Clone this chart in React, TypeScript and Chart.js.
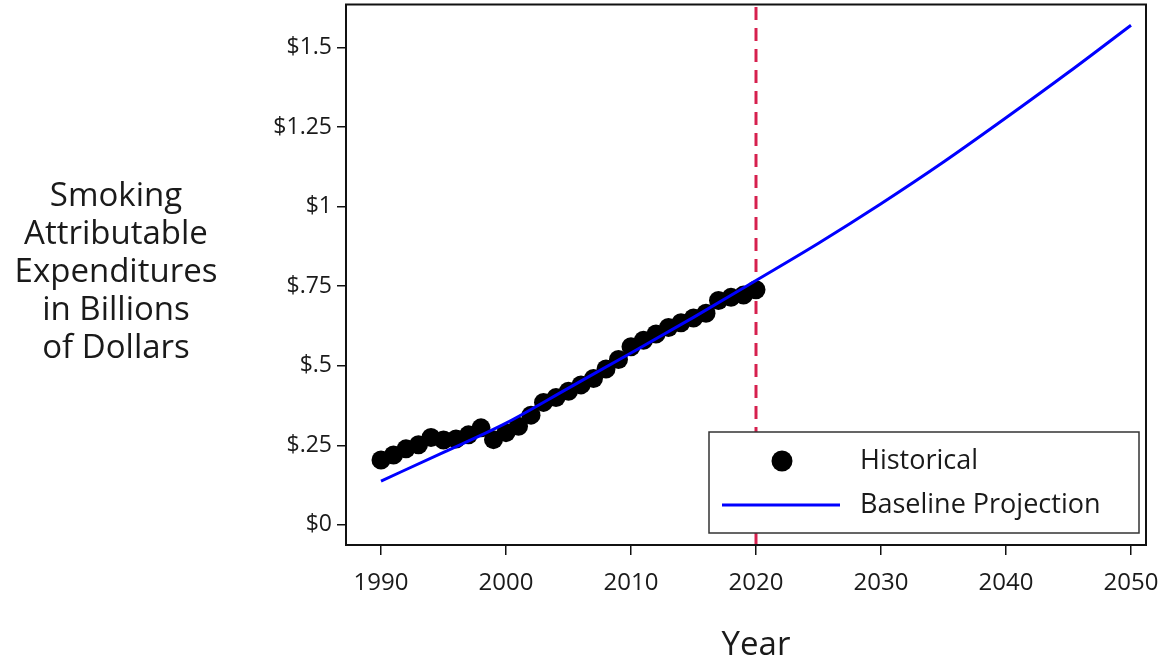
import { useEffect, useRef } from "react";
import Chart from "chart.js/auto";

const histYears = [
  1990, 1991, 1992, 1993, 1994, 1995, 1996, 1997, 1998, 1999,
  2000, 2001, 2002, 2003, 2004, 2005, 2006, 2007, 2008, 2009,
  2010, 2011, 2012, 2013, 2014, 2015, 2016, 2017, 2018, 2019, 2020,
];
const histValues = [
  0.204, 0.22, 0.239, 0.252, 0.275, 0.267, 0.27, 0.283, 0.305, 0.268,
  0.29, 0.31, 0.345, 0.385, 0.4, 0.42, 0.44, 0.46, 0.49, 0.52,
  0.56, 0.58, 0.6, 0.62, 0.635, 0.65, 0.665, 0.705, 0.715, 0.722, 0.739,
];
const projYears = [1990, 1995, 2000, 2005, 2010, 2015, 2020, 2025, 2030, 2035, 2040, 2045, 2050];
const projValues = [0.138, 0.228, 0.32, 0.43, 0.54, 0.652, 0.768, 0.885, 1.009, 1.14, 1.279, 1.422, 1.57];
const cutoffYear = 2020;
const xTickValues = [1990, 2000, 2010, 2020, 2030, 2040, 2050];
const yTickValues = [0, 0.25, 0.5, 0.75, 1, 1.25, 1.5];
const yTickLabels = ["$0", "$.25", "$.5", "$.75", "$1", "$1.25", "$1.5"];
const yTitleLines = ["Smoking", "Attributable", "Expenditures", "in Billions", "of Dollars"];
const xTitle = "Year";
const legendLabels = ["Historical", "Baseline Projection"];

const X_MIN = 1987.2;
const X_MAX = 2051.2;
const Y_MIN = -0.063;
const Y_MAX = 1.635;
const FONT = "'Open Sans', 'Noto Sans', sans-serif";
const TEXT = "#1a1a1a";
const SHIFT = 5;

const overlayPlugin = {
  id: "overlay",
  afterDraw(chart: any) {
    const { ctx, chartArea: ca } = chart;
    const xs = chart.scales.x;
    ctx.save();
    // frame
    ctx.strokeStyle = "#111";
    ctx.lineWidth = 2;
    ctx.strokeRect(ca.left, ca.top, ca.right - ca.left, ca.bottom - ca.top);

    // legend
    const lw = 430;
    const lh = 101;
    const lx = ca.right - 437;
    const ly = ca.bottom - 113;
    ctx.fillStyle = "#fff";
    ctx.fillRect(lx, ly, lw, lh);
    ctx.strokeStyle = "#333";
    ctx.lineWidth = 1.5;
    ctx.strokeRect(lx, ly, lw, lh);
    ctx.fillStyle = "#000";
    ctx.beginPath();
    ctx.arc(lx + 73, ly + 29, 10.5, 0, Math.PI * 2);
    ctx.fill();
    ctx.strokeStyle = "#0000ff";
    ctx.lineWidth = 3;
    ctx.beginPath();
    ctx.moveTo(lx + 13, ly + 73);
    ctx.lineTo(lx + 131, ly + 73);
    ctx.stroke();
    ctx.fillStyle = TEXT;
    ctx.font = `27px ${FONT}`;
    ctx.textAlign = "left";
    ctx.textBaseline = "middle";
    ctx.fillText(legendLabels[0], lx + 151, ly + 29);
    ctx.fillText(legendLabels[1], lx + 151, ly + 73);

    // y title
    ctx.font = `33px ${FONT}`;
    ctx.textAlign = "center";
    yTitleLines.forEach((t, i) => {
      ctx.fillText(t, ca.left - 230, ca.top + 192 + i * 38);
    });

    // x title
    ctx.font = `33px ${FONT}`;
    ctx.fillText(xTitle, xs.getPixelForValue((X_MIN + X_MAX) / 2 + 0.8), ca.bottom + 101);
    ctx.restore();
  },
};

export default function App() {
  const ref = useRef<HTMLCanvasElement>(null);

  useEffect(() => {
    if (!ref.current) return;
    const chart = new Chart(ref.current, {
      type: "scatter",
      data: {
        datasets: [
          {
            type: "line",
            label: "cutoff",
            data: [
              { x: cutoffYear, y: Y_MIN },
              { x: cutoffYear, y: Y_MAX },
            ],
            borderColor: "#d6204e",
            borderWidth: 3,
            borderDash: [13, 8],
            pointRadius: 0,
            order: 3,
          },
          {
            type: "scatter",
            label: legendLabels[0],
            data: histYears.map((x, i) => ({ x, y: histValues[i] })),
            backgroundColor: "#000",
            borderWidth: 0,
            pointRadius: 9.5,
            order: 2,
          },
          {
            type: "line",
            label: legendLabels[1],
            data: projYears.map((x, i) => ({ x, y: projValues[i] })),
            borderColor: "#0000ff",
            borderWidth: 3,
            pointRadius: 0,
            cubicInterpolationMode: "monotone",
            order: 1,
          },
        ],
      },
      options: {
        animation: false,
        responsive: true,
        maintainAspectRatio: false,
        layout: { padding: { left: 0, right: 30, top: 0, bottom: 0 } },
        plugins: { legend: { display: false }, tooltip: { enabled: false } },
        scales: {
          x: {
            type: "linear",
            min: X_MIN,
            max: X_MAX,
            border: { display: false },
            grid: {
              display: true,
              drawOnChartArea: false,
              drawTicks: true,
              tickLength: 10,
              color: "#111",
              lineWidth: 1.5,
            },
            afterBuildTicks: (s: any) => {
              s.ticks = xTickValues.map((v) => ({ value: v }));
            },
            afterFit: (s: any) => {
              s.height = 122;
              s.paddingLeft = 0;
              s.paddingRight = 0;
            },
            ticks: {
              autoSkip: false,
              maxRotation: 0,
              padding: 14,
              color: TEXT,
              font: { family: FONT, size: 24 },
              callback: (v: any) => String(v),
            },
          },
          y: {
            type: "linear",
            min: Y_MIN,
            max: Y_MAX,
            border: { display: false },
            grid: {
              display: true,
              drawOnChartArea: false,
              drawTicks: true,
              tickLength: 9,
              color: "#111",
              lineWidth: 1.5,
            },
            afterBuildTicks: (s: any) => {
              s.ticks = yTickValues.map((v) => ({ value: v }));
            },
            afterFit: (s: any) => {
              s.width = 346;
              s.paddingTop = 0;
              s.paddingBottom = 0;
            },
            ticks: {
              autoSkip: false,
              padding: 5,
              color: TEXT,
              font: { family: FONT, size: 23 },
              callback: (v: any) => {
                const i = yTickValues.indexOf(Number(v));
                return i >= 0 ? yTickLabels[i] : "";
              },
            },
          },
        },
      },
      plugins: [overlayPlugin],
    });
    return () => chart.destroy();
  }, []);

  return (
    <div
      style={{
        position: "fixed",
        left: 0,
        top: -SHIFT,
        width: 1176,
        height: 667 + SHIFT,
        background: "#fff",
      }}
    >
      <canvas ref={ref} />
    </div>
  );
}
